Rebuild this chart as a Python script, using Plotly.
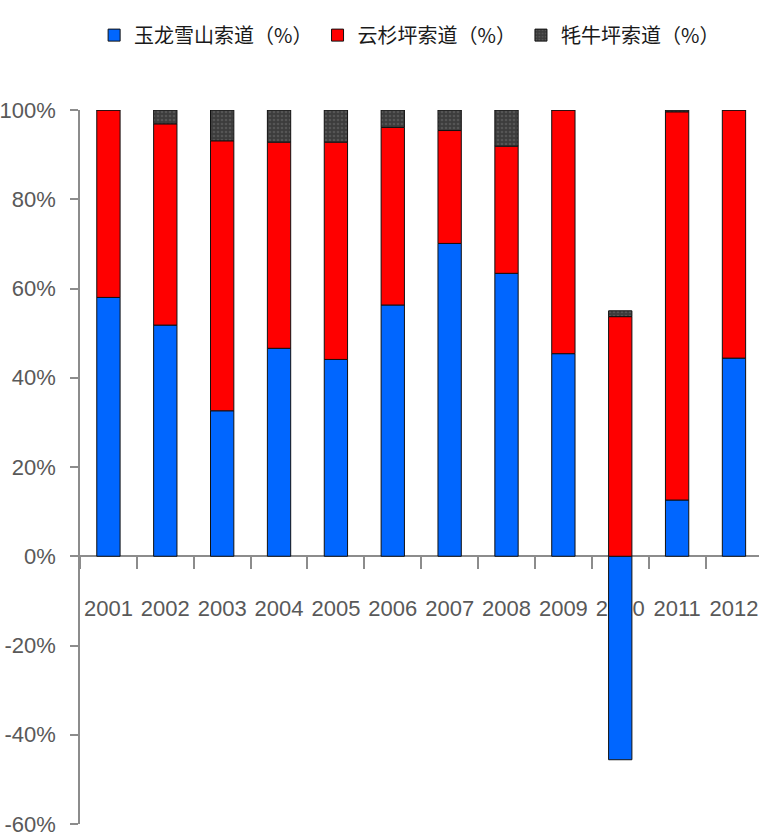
import plotly.graph_objects as go

years = ["2001", "2002", "2003", "2004", "2005", "2006", "2007", "2008", "2009", "2010", "2011", "2012"]
yulong = [58.0, 51.8, 32.6, 46.6, 44.1, 56.3, 70.1, 63.4, 45.4, -45.6, 12.6, 44.4]
yunshan = [42.0, 45.1, 60.5, 46.2, 48.7, 39.8, 25.3, 28.5, 54.6, 53.7, 87.0, 55.6]
maoniu = [0.0, 3.1, 6.9, 7.2, 7.2, 3.9, 4.6, 8.1, 0.0, 1.3, 0.4, 0.0]
names = ["玉龙雪山索道（%）", "云杉坪索道（%）", "牦牛坪索道（%）"]
y_tickvals = [-60, -40, -20, 0, 20, 40, 60, 80, 100]
y_ticktext = ["-60%", "-40%", "-20%", "0%", "20%", "40%", "60%", "80%", "100%"]

num_font = "Liberation Sans Narrow, Liberation Sans, Arial, sans-serif"
cjk_font = "Noto Sans CJK SC, sans-serif"

fig = go.Figure()
fig.add_trace(go.Bar(x=years, y=yulong, name=names[0],
                     marker=dict(color="#0066FF", line=dict(color="#111111", width=1))))
fig.add_trace(go.Bar(x=years, y=yunshan, name=names[1],
                     marker=dict(color="#FF0000", line=dict(color="#111111", width=1))))
fig.add_trace(go.Bar(x=years, y=maoniu, name=names[2],
                     marker=dict(color="#4a4a4a", line=dict(color="#111111", width=1),
                                 pattern=dict(shape=".", bgcolor="#3c3c3c", fgcolor="#6e6e6e",
                                              size=4, solidity=0.35))))

fig.update_layout(
    width=759, height=836,
    margin=dict(l=80, r=0, t=110, b=12),
    barmode="relative",
    bargap=0.59,
    plot_bgcolor="white",
    paper_bgcolor="white",
    showlegend=True,
    legend=dict(orientation="h", xref="container", yref="container",
                x=0.124, xanchor="left", y=0.958, yanchor="middle",
                font=dict(family=cjk_font, size=20, color="#1a1a1a"),
                itemwidth=30, tracegroupgap=0),
    xaxis=dict(type="category", range=[-0.5, 11.44], anchor="free", position=0.375,
               automargin=False,
               showline=True, linecolor="#8c8c8c", linewidth=1.5,
               ticks="outside", ticklen=12, tickcolor="#8c8c8c", tickwidth=1.5,
               tickson="boundaries", ticklabelstandoff=33, tickangle=0,
               tickfont=dict(family=num_font, size=22, color="#595959"),
               showgrid=False, zeroline=False, layer="below traces"),
    yaxis=dict(range=[-60, 100], tickvals=y_tickvals, ticktext=y_ticktext,
               automargin=False,
               showline=True, linecolor="#8c8c8c", linewidth=1.5,
               ticks="outside", ticklen=8, tickcolor="#8c8c8c", tickwidth=1.5,
               ticklabelstandoff=10, ticklabeloverflow="allow",
               tickfont=dict(family=num_font, size=22, color="#595959"),
               showgrid=False, zeroline=False),
)

fig.write_html("out.html")
